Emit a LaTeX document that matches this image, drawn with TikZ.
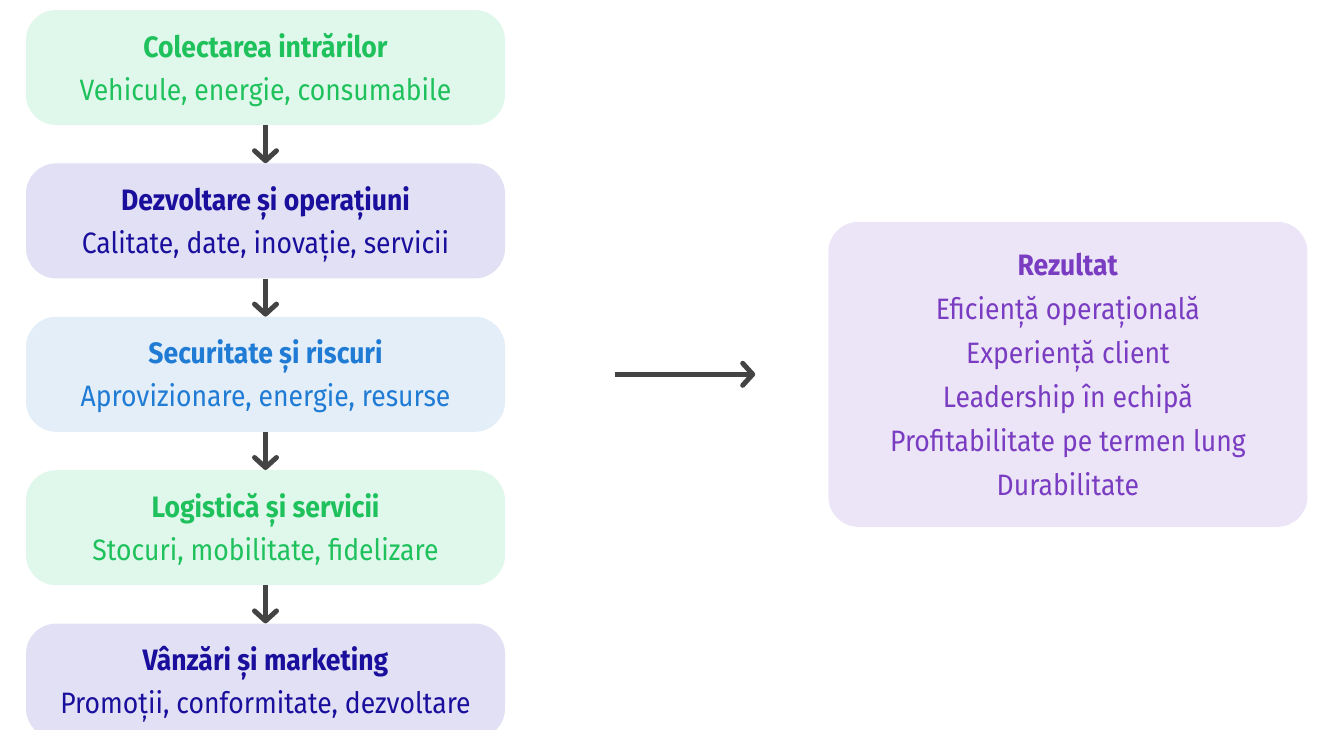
\documentclass[tikz,border=0pt]{standalone}
\usepackage{fontspec}
\setmainfont[FakeStretch=0.9]{Fira Sans}
\usepackage{tikz}
\usetikzlibrary{arrows.meta, positioning}
\usepackage{xcolor}

\definecolor{mintfill}{HTML}{E0F8EC}
\definecolor{minttext}{HTML}{1FC15C}
\definecolor{indigofill}{HTML}{E1E0F4}
\definecolor{indigotext}{HTML}{1A0F9C}
\definecolor{skyfill}{HTML}{E3EEF9}
\definecolor{skytext}{HTML}{1F7BD3}
\definecolor{lilacfill}{HTML}{ECE5F7}
\definecolor{lilactext}{HTML}{7A3DC2}
\definecolor{arrowgray}{HTML}{444444}

\begin{document}
\begin{tikzpicture}[>={Straight Barb[length=10pt, width=22pt, line cap=round, line join=round]},
    node distance=38pt]
    \tikzstyle{box} = [rounded corners=30pt, minimum width=479pt, text centered, align=center]
    \tikzstyle{stage} = [box, minimum height=115pt, text height=72pt, text depth=7pt,
        font=\fontsize{29.5}{43}\selectfont]
    \tikzstyle{outcome} = [box, minimum height=305pt, font=\fontsize{29.5}{44}\selectfont]
    \tikzstyle{link} = [->, line width=5pt, draw=arrowgray]
    \useasboundingbox (0,0) rectangle (1322pt,-729pt);
    \node [stage, fill=mintfill, text=minttext] at (265.5pt,-67.5pt) (inputs)
        {\textbf{Colectarea intrărilor}\\Vehicule, energie, consumabile};
    \node [stage, fill=indigofill, text=indigotext, below=of inputs] (devops)
        {\textbf{Dezvoltare și operațiuni}\\Calitate, date, inovație, servicii};
    \node [stage, fill=skyfill, text=skytext, below=of devops] (secrisk)
        {\textbf{Securitate și riscuri}\\Aprovizionare, energie, resurse};
    \node [stage, fill=mintfill, text=minttext, below=of secrisk] (logserv)
        {\textbf{Logistică și servicii}\\Stocuri, mobilitate, fidelizare};
    \node [stage, fill=indigofill, text=indigotext, below=of logserv] (salesmkt)
        {\textbf{Vânzări și marketing}\\Promoții, conformitate, dezvoltare};
    \node [outcome, fill=lilacfill, text=lilactext, right=323pt of secrisk] (result)
        {\textbf{Rezultat}\\Eficiență operațională\\Experiență client\\Leadership în echipă\\
        Profitabilitate pe termen lung\\Durabilitate};
    \draw[link] (inputs.south) to (devops.north);
    \draw[link] (devops.south) to (secrisk.north);
    \draw[link] (secrisk.south) to (logserv.north);
    \draw[link] (logserv.south) to (salesmkt.north);
    \draw[link, shorten <=110pt, shorten >=73pt] (secrisk.east) to (result.west);
\end{tikzpicture}
\end{document}
